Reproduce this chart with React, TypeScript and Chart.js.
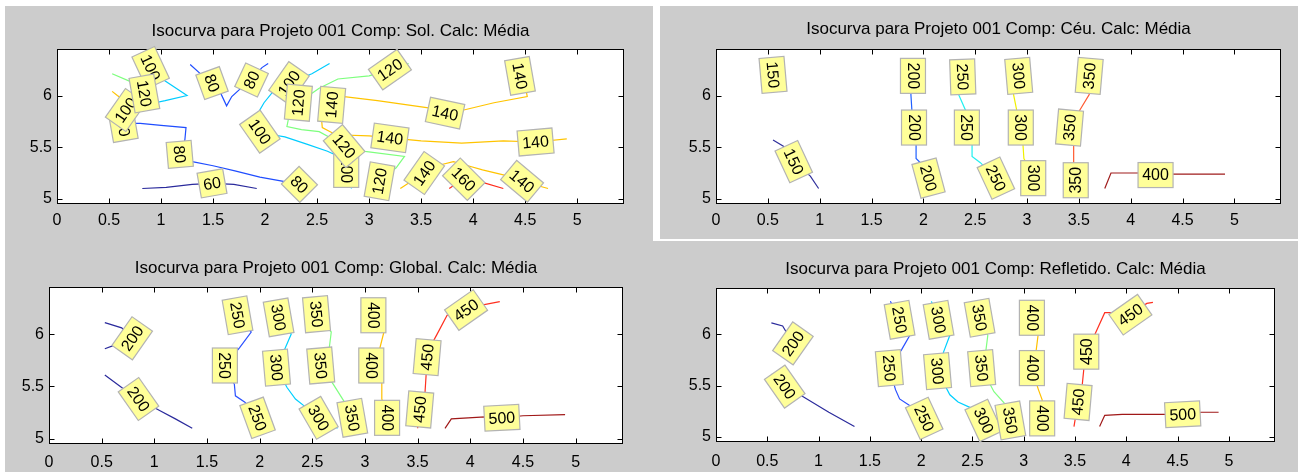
import React, { useEffect, useRef } from 'react';
import { Chart, registerables } from 'chart.js';

Chart.register(...registerables);

type Pt = [number, number];
type Lbl = [number, number, number, string]; // x, y, rotation (deg, clockwise), text

// ---------- shared axes ----------
const xTicks = [0, 0.5, 1, 1.5, 2, 2.5, 3, 3.5, 4, 4.5, 5];
const yTicks = [5, 5.5, 6];
const xLimits = [0, 5.45];
const yLimits = [4.95, 6.45];

const titles = [
  'Isocurva para Projeto 001 Comp: Sol. Calc: Média',
  'Isocurva para Projeto 001 Comp: Céu. Calc: Média',
  'Isocurva para Projeto 001 Comp: Global. Calc: Média',
  'Isocurva para Projeto 001 Comp: Refletido. Calc: Média',
];

// ---------- Panel 1: Sol ----------
const sol60: Pt[] = [[0.82, 5.10], [1.05, 5.11], [1.30, 5.14], [1.50, 5.15], [1.70, 5.14], [1.92, 5.10]];
const sol80a: Pt[] = [[1.28, 6.30], [1.39, 6.20], [1.49, 6.12], [1.57, 6.03], [1.63, 5.90], [1.68, 5.99], [1.80, 6.10], [1.90, 6.19], [1.97, 6.27], [2.03, 6.31]];
const sol80b: Pt[] = [[0.53, 5.73], [0.80, 5.73], [1.00, 5.71], [1.24, 5.69], [1.23, 5.58], [1.22, 5.50], [1.18, 5.43], [1.30, 5.36], [1.50, 5.32], [1.71, 5.27], [1.95, 5.21], [2.23, 5.16], [2.33, 5.14], [2.42, 5.11]];
const sol100a: Pt[] = [[0.90, 6.27], [1.04, 6.14], [1.25, 6.00], [1.04, 5.95], [0.90, 5.92]];
const sol100b: Pt[] = [[2.62, 6.31], [2.45, 6.21], [2.35, 6.17], [2.23, 6.12], [2.07, 6.03], [1.99, 5.93], [1.95, 5.86], [1.95, 5.65], [2.07, 5.62], [2.19, 5.60], [2.40, 5.53], [2.60, 5.46], [2.75, 5.39], [2.80, 5.35], [2.80, 5.28], [2.83, 5.10]];
const sol120a: Pt[] = [[0.53, 6.21], [0.74, 6.12], [0.84, 6.02], [0.78, 5.90], [0.66, 5.86]];
const sol120b: Pt[] = [[3.38, 6.31], [3.20, 6.25], [3.00, 6.19], [2.70, 6.16], [2.52, 6.07], [2.32, 5.93], [2.23, 5.80], [2.21, 5.70], [2.35, 5.67], [2.52, 5.65], [2.65, 5.58], [2.76, 5.51], [2.96, 5.46], [3.34, 5.41], [3.26, 5.30], [3.10, 5.17], [3.04, 5.03]];
const sol140a: Pt[] = [[2.64, 5.91], [2.70, 5.98], [2.76, 5.99], [3.08, 5.95], [3.57, 5.88], [3.73, 5.83], [3.91, 5.86], [4.20, 5.93], [4.52, 5.99], [4.50, 6.10], [4.45, 6.19]];
const sol140b: Pt[] = [[2.54, 5.80], [2.55, 5.69], [2.68, 5.62], [3.00, 5.61], [3.20, 5.59], [3.50, 5.56], [3.89, 5.54], [4.29, 5.56], [4.60, 5.55], [4.90, 5.58]];
const sol140c: Pt[] = [[3.30, 5.10], [3.45, 5.20], [3.53, 5.25], [3.69, 5.33], [3.81, 5.36], [3.95, 5.32], [4.09, 5.28], [4.30, 5.23], [4.47, 5.17], [4.72, 5.10]];
const sol140d: Pt[] = [[0.53, 6.04], [0.58, 6.00], [0.62, 5.97]];
const sol160: Pt[] = [[3.77, 5.10], [3.83, 5.14], [3.91, 5.19], [4.09, 5.16], [4.29, 5.10]];
const solColors = ['#2a2a9c', '#1f4dff', '#00ccff', '#7dff7d', '#ffc400', '#ff2a1a'];
const solLabels: Lbl[] = [
  [0.64, 5.69, 80, '80'], [0.66, 5.86, -55, '100'], [0.90, 6.27, 65, '100'], [0.84, 6.02, 80, '120'],
  [1.49, 6.12, 70, '80'], [1.87, 6.15, -65, '80'], [1.18, 5.43, 85, '80'], [2.33, 5.14, 45, '80'],
  [1.49, 5.15, -10, '60'], [2.23, 6.12, -55, '100'], [1.95, 5.65, 55, '100'], [2.78, 5.28, 90, '100'],
  [2.32, 5.93, -85, '120'], [3.20, 6.25, -35, '120'], [2.76, 5.51, 50, '120'], [3.10, 5.17, -80, '120'],
  [2.64, 5.91, -85, '140'], [3.73, 5.83, 12, '140'], [4.45, 6.19, 80, '140'], [3.20, 5.59, 8, '140'],
  [4.60, 5.55, -5, '140'], [3.53, 5.25, -55, '140'], [4.47, 5.17, 40, '140'], [3.91, 5.19, 45, '160'],
];

// ---------- Panel 2: Céu ----------
const ceu150: Pt[] = [[0.55, 5.57], [0.65, 5.51], [0.75, 5.36], [0.91, 5.22], [0.99, 5.10]];
const ceu200: Pt[] = [[1.90, 6.30], [1.90, 6.19], [1.88, 6.01], [1.89, 5.85], [1.91, 5.69], [1.93, 5.52], [1.93, 5.39], [1.97, 5.35], [2.05, 5.20], [2.08, 5.10]];
const ceu250: Pt[] = [[2.36, 6.30], [2.38, 6.18], [2.34, 6.01], [2.41, 5.85], [2.42, 5.69], [2.47, 5.54], [2.47, 5.41], [2.55, 5.35], [2.70, 5.20], [2.76, 5.10]];
const ceu300: Pt[] = [[2.90, 6.30], [2.92, 6.19], [2.87, 6.01], [2.90, 5.86], [2.94, 5.69], [2.96, 5.54], [2.97, 5.39], [3.02, 5.30], [3.06, 5.20], [3.07, 5.10]];
const ceu350: Pt[] = [[3.62, 6.30], [3.60, 6.19], [3.60, 6.01], [3.51, 5.86], [3.41, 5.69], [3.45, 5.54], [3.45, 5.35], [3.47, 5.18], [3.47, 5.10]];
const ceu400: Pt[] = [[3.75, 5.10], [3.81, 5.25], [4.10, 5.25], [4.24, 5.23], [4.40, 5.24], [4.91, 5.24]];
const ceuColors = ['#30309c', '#2060ff', '#20f0f0', '#f0f000', '#ff5a30', '#a01c1c'];
const ceuLabels: Lbl[] = [
  [0.55, 6.20, 85, '150'], [0.75, 5.36, 65, '150'],
  [1.90, 6.19, 90, '200'], [1.91, 5.69, 90, '200'], [2.05, 5.20, 75, '200'],
  [2.38, 6.18, 88, '250'], [2.42, 5.69, 90, '250'], [2.70, 5.20, 65, '250'],
  [2.92, 6.19, 85, '300'], [2.94, 5.69, 90, '300'], [3.06, 5.20, 90, '300'],
  [3.60, 6.19, -85, '350'], [3.41, 5.69, -85, '350'], [3.47, 5.18, -90, '350'],
  [4.24, 5.23, 0, '400'],
];

// ---------- Panel 3: Global ----------
const glo200a: Pt[] = [[0.53, 6.11], [0.69, 6.06], [0.79, 5.96], [0.61, 5.89], [0.53, 5.86]];
const glo200b: Pt[] = [[0.53, 5.61], [0.69, 5.49], [0.85, 5.38], [1.05, 5.27], [1.20, 5.19], [1.36, 5.10]];
const glo250: Pt[] = [[1.79, 6.30], [1.79, 6.18], [1.92, 6.02], [1.81, 5.87], [1.67, 5.70], [1.76, 5.52], [1.77, 5.41], [1.86, 5.35], [1.98, 5.20], [2.04, 5.10]];
const glo300: Pt[] = [[2.18, 6.30], [2.18, 6.16], [2.30, 6.00], [2.24, 5.86], [2.16, 5.68], [2.26, 5.49], [2.34, 5.38], [2.44, 5.30], [2.56, 5.20], [2.74, 5.10]];
const glo350: Pt[] = [[2.54, 6.30], [2.54, 6.19], [2.68, 6.02], [2.66, 5.86], [2.58, 5.70], [2.70, 5.52], [2.80, 5.36], [2.88, 5.20], [2.90, 5.10]];
const glo400: Pt[] = [[3.08, 6.30], [3.08, 6.18], [3.18, 6.02], [3.14, 5.86], [3.06, 5.70], [3.16, 5.54], [3.16, 5.38], [3.21, 5.20], [3.21, 5.10]];
const glo450: Pt[] = [[4.28, 6.31], [4.12, 6.28], [3.96, 6.23], [3.78, 6.18], [3.68, 5.99], [3.62, 5.88], [3.59, 5.78], [3.58, 5.60], [3.57, 5.44], [3.52, 5.28], [3.50, 5.10]];
const glo500: Pt[] = [[3.76, 5.10], [3.82, 5.19], [4.14, 5.21], [4.30, 5.20], [4.50, 5.22], [4.90, 5.23]];
const gloColors = ['#2a2a9c', '#2a50ff', '#00d0ff', '#80ff80', '#ffc000', '#ff3020', '#a01818'];
const gloLabels: Lbl[] = [
  [0.79, 5.96, -55, '200'], [0.85, 5.38, 55, '200'],
  [1.79, 6.18, 80, '250'], [1.67, 5.70, 90, '250'], [1.98, 5.20, 70, '250'],
  [2.18, 6.16, 80, '300'], [2.16, 5.68, 85, '300'], [2.56, 5.20, 60, '300'],
  [2.54, 6.19, 85, '350'], [2.58, 5.70, 85, '350'], [2.88, 5.20, 80, '350'],
  [3.08, 6.18, 90, '400'], [3.06, 5.70, 90, '400'], [3.21, 5.20, 90, '400'],
  [3.96, 6.23, -35, '450'], [3.59, 5.78, -85, '450'], [3.52, 5.28, -85, '450'],
  [4.30, 5.20, -3, '500'],
];

// ---------- Panel 4: Refletido ----------
const ref200a: Pt[] = [[0.54, 6.11], [0.65, 6.08], [0.75, 5.91]];
const ref200b: Pt[] = [[0.54, 5.61], [0.67, 5.49], [0.85, 5.39], [1.10, 5.24], [1.35, 5.10]];
const ref250: Pt[] = [[1.70, 6.32], [1.79, 6.14], [1.89, 5.99], [1.81, 5.85], [1.69, 5.67], [1.75, 5.46], [1.79, 5.37], [1.91, 5.29], [2.03, 5.18], [2.07, 5.10]];
const ref300: Pt[] = [[2.10, 6.32], [2.17, 6.14], [2.28, 5.99], [2.22, 5.83], [2.16, 5.64], [2.28, 5.41], [2.36, 5.34], [2.49, 5.28], [2.61, 5.16], [2.66, 5.10]];
const ref350: Pt[] = [[2.49, 6.30], [2.57, 6.16], [2.65, 5.99], [2.63, 5.83], [2.59, 5.67], [2.71, 5.44], [2.81, 5.33], [2.87, 5.16], [2.89, 5.10]];
const ref400: Pt[] = [[3.08, 6.30], [3.08, 6.16], [3.14, 5.99], [3.12, 5.83], [3.08, 5.67], [3.14, 5.47], [3.18, 5.36], [3.18, 5.18], [3.18, 5.10]];
const ref450: Pt[] = [[4.26, 6.31], [4.20, 6.30], [4.04, 6.19], [3.88, 6.21], [3.79, 6.21], [3.69, 5.99], [3.61, 5.83], [3.59, 5.70], [3.57, 5.50], [3.53, 5.34], [3.49, 5.10]];
const ref500: Pt[] = [[3.74, 5.10], [3.79, 5.21], [3.96, 5.22], [4.28, 5.22], [4.55, 5.22], [4.73, 5.24], [4.90, 5.24]];
const refColors = ['#2a2a9c', '#2a50ff', '#00d0ff', '#80ff80', '#ffc000', '#ff3020', '#a01818'];
const refLabels: Lbl[] = [
  [0.75, 5.91, -55, '200'], [0.67, 5.49, 55, '200'],
  [1.79, 6.14, 80, '250'], [1.69, 5.67, 85, '250'], [2.03, 5.18, 65, '250'],
  [2.17, 6.14, 80, '300'], [2.16, 5.64, 85, '300'], [2.61, 5.16, 65, '300'],
  [2.57, 6.16, 80, '350'], [2.59, 5.67, 85, '350'], [2.87, 5.16, 80, '350'],
  [3.08, 6.16, 90, '400'], [3.08, 5.67, 90, '400'], [3.18, 5.18, 90, '400'],
  [4.04, 6.19, -35, '450'], [3.61, 5.83, -90, '450'], [3.53, 5.34, -85, '450'],
  [4.55, 5.22, -3, '500'],
];

// ---------- assembling (line, colour) ----------
type LineSpec = [Pt[], string];
const solLines: LineSpec[] = [
  [sol60, solColors[0]], [sol80a, solColors[1]], [sol80b, solColors[1]], [sol100a, solColors[2]], [sol100b, solColors[2]],
  [sol120a, solColors[3]], [sol120b, solColors[3]], [sol140a, solColors[4]], [sol140b, solColors[4]], [sol140c, solColors[4]],
  [sol140d, solColors[4]], [sol160, solColors[5]],
];
const ceuLines: LineSpec[] = [
  [ceu150, ceuColors[0]], [ceu200, ceuColors[1]], [ceu250, ceuColors[2]], [ceu300, ceuColors[3]], [ceu350, ceuColors[4]], [ceu400, ceuColors[5]],
];
const gloLines: LineSpec[] = [
  [glo200a, gloColors[0]], [glo200b, gloColors[0]], [glo250, gloColors[1]], [glo300, gloColors[2]], [glo350, gloColors[3]],
  [glo400, gloColors[4]], [glo450, gloColors[5]], [glo500, gloColors[6]],
];
const refLines: LineSpec[] = [
  [ref200a, refColors[0]], [ref200b, refColors[0]], [ref250, refColors[1]], [ref300, refColors[2]], [ref350, refColors[3]],
  [ref400, refColors[4]], [ref450, refColors[5]], [ref500, refColors[6]],
];

// ---------- layout / style ----------
const FONT = '"Liberation Sans", Arial, Helvetica, sans-serif';
const GRAY = '#cccccc';

interface PanelLayout {
  left: number; top: number; w: number; h: number;
  yW: number; xH: number; padR: number; tTop: number; tBot: number; xPad: number;
}
const layouts: PanelLayout[] = [
  { left: 5, top: 6, w: 648, h: 235, yW: 52, xH: 37, padR: 29, tTop: 15, tBot: 8, xPad: 7 },
  { left: 660, top: 6, w: 638, h: 233, yW: 56, xH: 35, padR: 17, tTop: 13, tBot: 10, xPad: 7 },
  { left: 5, top: 241, w: 648, h: 231, yW: 44, xH: 28, padR: 30, tTop: 17, tBot: 9, xPad: 9 },
  { left: 660, top: 241, w: 638, h: 231, yW: 56, xH: 30, padR: 23, tTop: 18, tBot: 9, xPad: 10 },
];

function makeContourPlugin(labels: Lbl[]) {
  return {
    id: 'contourDecor',
    beforeDatasetsDraw(chart: any) {
      const { ctx, chartArea: a } = chart;
      ctx.save();
      ctx.fillStyle = '#ffffff';
      ctx.fillRect(a.left, a.top, a.right - a.left, a.bottom - a.top);
      ctx.restore();
    },
    afterDatasetsDraw(chart: any) {
      const { ctx, chartArea: a, scales } = chart;
      const xs = scales.x, ys = scales.y;
      // axes box + inward ticks
      ctx.save();
      ctx.strokeStyle = '#000';
      ctx.lineWidth = 1;
      const L = Math.round(a.left) + 0.5, R = Math.round(a.right) - 0.5;
      const T = Math.round(a.top) + 0.5, B = Math.round(a.bottom) - 0.5;
      ctx.strokeRect(L, T, R - L, B - T);
      const tl = 5;
      ctx.beginPath();
      for (const v of xTicks) {
        const p = Math.round(xs.getPixelForValue(v)) + 0.5;
        ctx.moveTo(p, B); ctx.lineTo(p, B - tl);
        ctx.moveTo(p, T); ctx.lineTo(p, T + tl);
      }
      for (const v of yTicks) {
        const p = Math.round(ys.getPixelForValue(v)) + 0.5;
        ctx.moveTo(L, p); ctx.lineTo(L + tl, p);
        ctx.moveTo(R, p); ctx.lineTo(R - tl, p);
      }
      ctx.stroke();
      ctx.restore();
      // contour labels (clabel style)
      ctx.save();
      ctx.font = `16px ${FONT}`;
      for (const [x, y, rot, text] of labels) {
        const px = xs.getPixelForValue(x);
        const py = ys.getPixelForValue(y);
        const w = Math.round(ctx.measureText(text).width + 8);
        const h = 25;
        ctx.save();
        ctx.translate(px, py);
        ctx.rotate((rot * Math.PI) / 180);
        ctx.fillStyle = '#ffff99';
        ctx.fillRect(-w / 2, -h / 2, w, h);
        ctx.strokeStyle = '#b3b3b3';
        ctx.lineWidth = 1.2;
        ctx.strokeRect(-w / 2, -h / 2, w, h);
        ctx.fillStyle = '#000';
        ctx.textAlign = 'center';
        ctx.textBaseline = 'middle';
        ctx.fillText(text, 0, 1);
        ctx.restore();
      }
      ctx.restore();
    },
  };
}

function Panel({ lay, title, lines, labels }: { lay: PanelLayout; title: string; lines: LineSpec[]; labels: Lbl[] }) {
  const ref = useRef<HTMLCanvasElement>(null);
  useEffect(() => {
    if (!ref.current) return;
    const chart = new Chart(ref.current, {
      type: 'scatter',
      data: {
        datasets: lines.map(([pts, color]) => ({
          data: pts.map(([x, y]) => ({ x, y })),
          borderColor: color,
          backgroundColor: color,
          borderWidth: 1.2,
          pointRadius: 0,
          showLine: true,
          fill: false,
          tension: 0,
        })),
      },
      options: {
        responsive: false,
        animation: false,
        events: [],
        layout: { padding: { top: 0, left: 0, right: lay.padR, bottom: 0 } },
        plugins: {
          legend: { display: false },
          tooltip: { enabled: false },
          title: {
            display: true,
            text: title,
            fullSize: false,
            color: '#000',
            font: { family: FONT, size: 17, weight: 'normal', lineHeight: '20px' },
            padding: { top: lay.tTop, bottom: lay.tBot },
          },
        },
        scales: {
          x: {
            type: 'linear',
            min: xLimits[0],
            max: xLimits[1],
            grid: { display: false, drawTicks: false },
            border: { display: false },
            ticks: {
              color: '#000',
              font: { family: FONT, size: 16 },
              padding: lay.xPad,
              maxRotation: 0,
              autoSkip: false,
              callback: (v: any) => String(v),
            },
            afterBuildTicks: (s: any) => { s.ticks = xTicks.map((v) => ({ value: v })); },
            afterFit: (s: any) => { s.height = lay.xH; },
          },
          y: {
            type: 'linear',
            min: yLimits[0],
            max: yLimits[1],
            grid: { display: false, drawTicks: false },
            border: { display: false },
            ticks: {
              color: '#000',
              font: { family: FONT, size: 16 },
              padding: 5,
              autoSkip: false,
              callback: (v: any) => String(v),
            },
            afterBuildTicks: (s: any) => { s.ticks = yTicks.map((v) => ({ value: v })); },
            afterFit: (s: any) => { s.width = lay.yW; },
          },
        },
      } as any,
      plugins: [makeContourPlugin(labels)],
    });
    return () => chart.destroy();
  }, []);
  return (
    <canvas
      ref={ref}
      width={lay.w}
      height={lay.h}
      style={{ position: 'absolute', left: lay.left, top: lay.top, width: lay.w, height: lay.h }}
    />
  );
}

export default function App() {
  return (
    <div style={{ position: 'absolute', left: 0, top: 0, width: 1298, height: 472, background: '#fff', overflow: 'hidden' }}>
      <div style={{ position: 'absolute', left: 5, top: 6, width: 648, height: 466, background: GRAY }} />
      <div style={{ position: 'absolute', left: 5, top: 241, width: 1293, height: 231, background: GRAY }} />
      <div style={{ position: 'absolute', left: 660, top: 6, width: 638, height: 233, background: GRAY }} />
      <Panel lay={layouts[0]} title={titles[0]} lines={solLines} labels={solLabels} />
      <Panel lay={layouts[1]} title={titles[1]} lines={ceuLines} labels={ceuLabels} />
      <Panel lay={layouts[2]} title={titles[2]} lines={gloLines} labels={gloLabels} />
      <Panel lay={layouts[3]} title={titles[3]} lines={refLines} labels={refLabels} />
    </div>
  );
}
